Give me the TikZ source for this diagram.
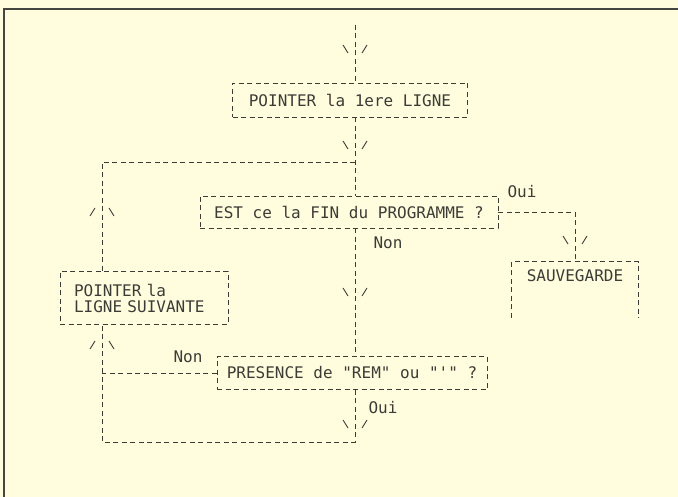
\documentclass[tikz,border=0pt]{standalone}
\usepackage{fontspec}
\setmonofont{DejaVu Sans Mono}
\definecolor{paper}{RGB}{255,253,222}
\definecolor{ink}{RGB}{60,60,55}
\definecolor{frame}{RGB}{70,70,65}
\tikzset{
  dashln/.style={draw=ink, line width=0.9pt, dash pattern=on 5pt off 3.5pt},
  boxnode/.style={dashln, inner sep=0pt, font=\ttfamily\fontsize{16}{16}\selectfont, text=ink},
  lbl/.style={inner sep=0pt, font=\ttfamily\fontsize{16}{16}\selectfont, text=ink},
  chev/.style={draw=ink, line width=0.9pt},
  chevdn/.pic={\draw[chev] (-12pt,4pt) -- (-7pt,-4pt); \draw[chev] (12pt,4pt) -- (7pt,-4pt);},
  chevup/.pic={\draw[chev] (-12pt,-4pt) -- (-7pt,4pt); \draw[chev] (12pt,-4pt) -- (7pt,4pt);}
}
\begin{document}
\begin{tikzpicture}[x=1pt,y=-1pt]
\useasboundingbox (0,0) rectangle (678,497);
\fill[paper] (0,0) rectangle (678,497);
\draw[frame, line width=2.2pt] (4,497) -- (4,9) -- (678,9);

% nodes
\node[boxnode, minimum width=235pt, minimum height=34pt] (n1) at (350,100) {POINTER la 1ere LIGNE};
\node[boxnode, minimum width=298pt, minimum height=32pt] (n2) at (349,212) {EST ce la FIN du PROGRAMME ?};
\node[lbl, minimum width=126pt, minimum height=28pt] (n3) at (575,276) {SAUVEGARDE};
\node[boxnode, minimum width=168pt, minimum height=53pt, align=left, text width=140pt] (n4) at (144,298) {POINTER la\\LIGNE SUIVANTE};
\node[boxnode, minimum width=270pt, minimum height=33pt] (n5) at (352,373) {PRESENCE de "REM" ou "'" ?};

% labels
\node[lbl] (oui1) at (522,192) {Oui};
\node[lbl] (non1) at (388,243) {Non};
\node[lbl] (non2) at (188,357) {Non};
\node[lbl] (oui2) at (383,408) {Oui};

% coordinates
\coordinate (top) at (355,25);
\coordinate (j1) at (355,162);
\coordinate (lp) at (102,162);
\coordinate (br) at (355,442);
\coordinate (bl) at (102,442);

% SAUVEGARDE open box
\draw[dashln] ([yshift=-56pt]n3.north west) -- (n3.north west) -- (n3.north east) -- ([yshift=-56pt]n3.north east);

% connectors
\draw[dashln] (top) -- (top |- n1.north);
\draw[dashln] (n1.south -| top) -- (n2.north -| top);
\draw[dashln] (j1) -- (lp) -- (n4.north -| lp);
\draw[dashln] (n2.east) -| (n3.north);
\draw[dashln] (n2.south -| top) -- (n5.north -| top);
\draw[dashln] (n5.south -| top) -- (br) -- (bl) -- (n4.south -| lp);
\draw[dashln] (n5.west) -- (n5.west -| lp);

% arrow chevrons
\pic at (355,49) {chevdn};
\pic at (355,145) {chevdn};
\pic at (102,212) {chevup};
\pic at (n3.north |- 0,240) {chevdn};
\pic at (355,292) {chevdn};
\pic at (102,345) {chevup};
\pic at (355,424) {chevdn};
\end{tikzpicture}
\end{document}
